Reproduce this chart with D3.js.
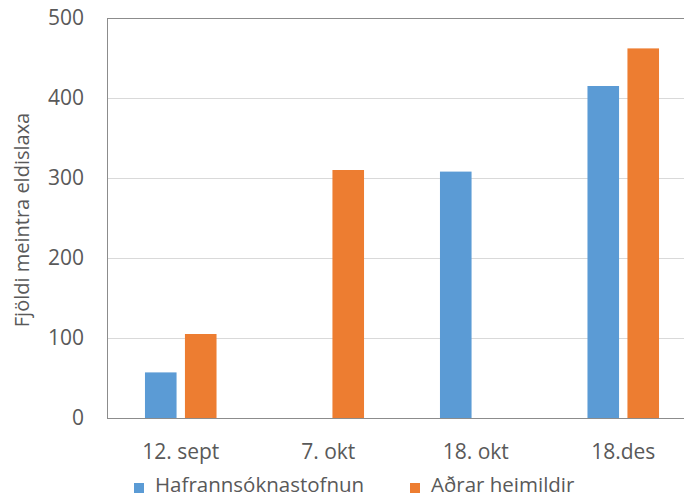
<!DOCTYPE html>
<html>
<head>
<meta charset="utf-8">
<script src="https://cdn.jsdelivr.net/npm/d3@7"></script>
<style>
  body { margin: 0; background: #fff; }
  text { font-family: "Open Sans", "Noto Sans", sans-serif; fill: #595959; }
</style>
</head>
<body>
<div id="chart"></div>
<script>
// data
var categories = ["12. sept", "7. okt", "18. okt", "18.des"];
var seriesNames = ["Hafrannsóknastofnun", "Aðrar heimildir"];
var hafro = [57, null, 308, 415];
var adrar = [105, 310, null, 462];
var yTicks = [0, 100, 200, 300, 400, 500];
var colors = ["#5b9bd5", "#ed7d31"];

var width = 684, height = 499;
var mLeft = 107, mTop = 18, plotW = 590, plotH = 400;

var svg = d3.select("#chart").append("svg")
  .attr("width", width).attr("height", height);

var x = d3.scaleBand().domain(categories).range([mLeft, mLeft + plotW]);
var x1 = d3.scaleBand().domain([0, 1]).range([0, x.bandwidth()]).paddingInner(0.21).paddingOuter(0.95);
var y = d3.scaleLinear().domain([0, 500]).range([mTop + plotH, mTop]);

// gridlines
svg.append("g").selectAll("line").data(yTicks.slice(1, 5)).enter().append("line")
  .attr("x1", mLeft).attr("x2", mLeft + plotW)
  .attr("y1", function (d) { return Math.round(y(d)) + 0.5; })
  .attr("y2", function (d) { return Math.round(y(d)) + 0.5; })
  .attr("stroke", "#d9d9d9").attr("stroke-width", 1);

// top border
svg.append("line").attr("x1", mLeft).attr("x2", mLeft + plotW)
  .attr("y1", mTop + 0.5).attr("y2", mTop + 0.5)
  .attr("stroke", "#8c8c8c");

// bars
var series = [hafro, adrar];
series.forEach(function (vals, si) {
  var rows = vals.map(function (v, i) { return { cat: categories[i], v: v }; })
    .filter(function (d) { return d.v != null; });
  svg.append("g").selectAll("rect").data(rows).enter().append("rect")
    .attr("x", function (d) { return x(d.cat) + x1(si); })
    .attr("y", function (d) { return y(d.v); })
    .attr("width", x1.bandwidth())
    .attr("height", function (d) { return y(0) - y(d.v); })
    .attr("fill", colors[si]);
});

// axis lines
svg.append("line").attr("x1", mLeft + 0.5).attr("x2", mLeft + 0.5)
  .attr("y1", mTop).attr("y2", mTop + plotH)
  .attr("stroke", "#8c8c8c");
svg.append("line").attr("x1", mLeft).attr("x2", mLeft + plotW)
  .attr("y1", mTop + plotH + 0.5).attr("y2", mTop + plotH + 0.5)
  .attr("stroke", "#8c8c8c");

// y tick labels
svg.append("g").selectAll("text").data(yTicks).enter().append("text")
  .attr("x", 84).attr("y", function (d) { return y(d) + 7; })
  .attr("text-anchor", "end")
  .style("font-size", "21px")
  .text(function (d) { return d; });

// x tick labels
svg.append("g").selectAll("text").data(categories).enter().append("text")
  .attr("x", function (d) { return x(d) + x.bandwidth() / 2; })
  .attr("y", 459)
  .attr("text-anchor", "middle")
  .style("font-size", "21px")
  .text(function (d) { return d; });

// y title
svg.append("text")
  .attr("transform", "translate(29," + (mTop + plotH / 2 + 2) + ") rotate(-90)")
  .attr("text-anchor", "middle")
  .style("font-size", "20px")
  .text("Fjöldi meintra eldislaxa");

// legend
var legendX = [134, 410];
seriesNames.forEach(function (name, i) {
  svg.append("rect").attr("x", legendX[i]).attr("y", 483)
    .attr("width", 10).attr("height", 10).attr("fill", colors[i]);
  svg.append("text").attr("x", legendX[i] + 21).attr("y", 492)
    .style("font-size", "20.5px").text(name);
});
</script>
</body>
</html>
